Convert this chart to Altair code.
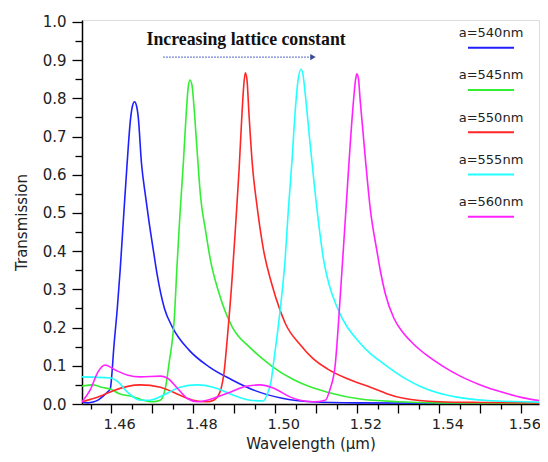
import altair as alt
import pandas as pd

series_names = ["a=540nm", "a=545nm", "a=550nm", "a=555nm", "a=560nm"]
series_colors = ["#2020ff", "#33ee33", "#ff2626", "#22ffff", "#ff22ff"]

wl_540 = [1.4529, 1.4544, 1.4556, 1.4568, 1.4580, 1.4590, 1.4598, 1.4602, 1.4606, 1.4615, 1.4622,
          1.4631, 1.4639, 1.4647, 1.4652, 1.4657, 1.4662, 1.4666, 1.4674, 1.4684, 1.4692, 1.4704,
          1.4712, 1.4730, 1.4749, 1.4790, 1.4838, 1.4895, 1.4951, 1.5017, 1.5090, 1.5200, 1.5400,
          1.5643]
tr_540 = [0.005, 0.003, 0.005, 0.010, 0.020, 0.030, 0.040, 0.080, 0.140, 0.250, 0.350,
          0.500, 0.630, 0.743, 0.780, 0.791, 0.780, 0.752, 0.630, 0.543, 0.480, 0.395,
          0.340, 0.250, 0.202, 0.141, 0.098, 0.063, 0.035, 0.015, 0.006, 0.003, 0.002,
          0.002]

wl_545 = [1.4529, 1.4556, 1.4580, 1.4598, 1.4620, 1.4654, 1.4678, 1.4702, 1.4718, 1.4724, 1.4732,
          1.4741, 1.4754, 1.4761, 1.4768, 1.4776, 1.4783, 1.4788, 1.4792, 1.4797, 1.4802, 1.4810,
          1.4818, 1.4830, 1.4842, 1.4863, 1.4895, 1.4936, 1.4963, 1.4993, 1.5044, 1.5090, 1.5127,
          1.5207, 1.5300, 1.5400, 1.5643]
tr_545 = [0.047, 0.050, 0.043, 0.039, 0.027, 0.019, 0.010, 0.006, 0.009, 0.015, 0.040,
          0.105, 0.225, 0.369, 0.500, 0.630, 0.760, 0.830, 0.848, 0.835, 0.778, 0.657,
          0.543, 0.455, 0.377, 0.290, 0.202, 0.150, 0.124, 0.098, 0.064, 0.043, 0.031,
          0.013, 0.006, 0.003, 0.002]

wl_550 = [1.4529, 1.4573, 1.4605, 1.4671, 1.4720, 1.4768, 1.4800, 1.4834, 1.4850, 1.4860, 1.4868,
          1.4875, 1.4883, 1.4895, 1.4903, 1.4912, 1.4918, 1.4923, 1.4927, 1.4931, 1.4936, 1.4944,
          1.4956, 1.4972, 1.4990, 1.5012, 1.5025, 1.5061, 1.5091, 1.5127, 1.5176, 1.5232, 1.5256,
          1.5272, 1.5313, 1.5400, 1.5500, 1.5643]
tr_550 = [0.006, 0.020, 0.035, 0.050, 0.044, 0.023, 0.010, 0.006, 0.010, 0.020, 0.040,
          0.080, 0.170, 0.330, 0.460, 0.615, 0.740, 0.830, 0.867, 0.850, 0.760, 0.630,
          0.515, 0.400, 0.320, 0.245, 0.210, 0.155, 0.120, 0.092, 0.066, 0.044, 0.034,
          0.027, 0.015, 0.006, 0.004, 0.003]

wl_555 = [1.4529, 1.4598, 1.4617, 1.4639, 1.4671, 1.4695, 1.4727, 1.4768, 1.4810, 1.4849, 1.4898,
          1.4946, 1.4971, 1.4980, 1.4990, 1.4995, 1.5012, 1.5024, 1.5032, 1.5041, 1.5049, 1.5056,
          1.5063, 1.5068, 1.5073, 1.5085, 1.5102, 1.5118, 1.5132, 1.5150, 1.5207, 1.5232, 1.5256,
          1.5272, 1.5313, 1.5354, 1.5394, 1.5443, 1.5516, 1.5600, 1.5643]
tr_555 = [0.071, 0.068, 0.058, 0.032, 0.010, 0.010, 0.023, 0.044, 0.050, 0.044, 0.023,
          0.009, 0.008, 0.025, 0.060, 0.100, 0.246, 0.377, 0.508, 0.639, 0.770, 0.850,
          0.876, 0.860, 0.813, 0.682, 0.508, 0.377, 0.310, 0.255, 0.159, 0.132, 0.112,
          0.099, 0.069, 0.046, 0.030, 0.018, 0.009, 0.006, 0.005]

wl_560 = [1.4529, 1.4549, 1.4568, 1.4585, 1.4610, 1.4639, 1.4671, 1.4720, 1.4737, 1.4761, 1.4785,
          1.4810, 1.4834, 1.4883, 1.4932, 1.4963, 1.4995, 1.5037, 1.5061, 1.5093, 1.5122, 1.5134,
          1.5146, 1.5159, 1.5167, 1.5175, 1.5183, 1.5191, 1.5196, 1.5199, 1.5203, 1.5207, 1.5220,
          1.5232, 1.5248, 1.5256, 1.5268, 1.5289, 1.5313, 1.5337, 1.5370, 1.5410, 1.5451, 1.5500,
          1.5556, 1.5605, 1.5643]
tr_560 = [0.006, 0.037, 0.084, 0.102, 0.089, 0.076, 0.071, 0.073, 0.068, 0.042, 0.015,
          0.006, 0.010, 0.028, 0.047, 0.050, 0.042, 0.018, 0.010, 0.006, 0.010, 0.040,
          0.100, 0.290, 0.420, 0.552, 0.683, 0.796, 0.850, 0.864, 0.850, 0.796, 0.639,
          0.508, 0.400, 0.350, 0.290, 0.225, 0.185, 0.157, 0.127, 0.098, 0.073, 0.050,
          0.030, 0.016, 0.009]

x_major_ticks = [1.46, 1.47, 1.48, 1.49, 1.50, 1.51, 1.52, 1.53, 1.54, 1.55, 1.56]
x_minor_ticks = [1.455, 1.465, 1.475, 1.485, 1.495, 1.505, 1.515, 1.525, 1.535, 1.545, 1.555]
y_major_ticks = [0.0, 0.1, 0.2, 0.3, 0.4, 0.5, 0.6, 0.7, 0.8, 0.9, 1.0]
y_minor_ticks = [0.05, 0.15, 0.25, 0.35, 0.45, 0.55, 0.65, 0.75, 0.85, 0.95]

annot_text = ["Increasing lattice constant"]
annot_x = [1.4929]
annot_y = [0.953]
arrow_x = [1.4727]
arrow_x2 = [1.5087]
arrow_y = [0.908]
arrow_head_x = [1.5092]

rows = []
for name, wl, tr in zip(series_names,
                        [wl_540, wl_545, wl_550, wl_555, wl_560],
                        [tr_540, tr_545, tr_550, tr_555, tr_560]):
    for w, t in zip(wl, tr):
        rows.append({"series": name, "wl": w, "tr": t})
df = pd.DataFrame(rows)

XDOM = [1.4529, 1.5643]
YDOM = [0.0, 1.005]
FONT = "DejaVu Sans"

xscale = alt.Scale(domain=XDOM, nice=False, zero=False)
yscale = alt.Scale(domain=YDOM, nice=False, zero=True)
cscale = alt.Scale(domain=series_names, range=series_colors)

lines = alt.Chart(df).mark_line(strokeWidth=1.6, clip=True, interpolate="monotone").encode(
    x=alt.X("wl:Q", scale=xscale,
            axis=alt.Axis(values=x_major_ticks, tickSize=9, labelPadding=4, grid=False,
                          labelExpr="(round(datum.value*100) % 2 == 0) ? format(datum.value, '.2f') : ''",
                          labelOffset={"condition": {"test": "datum.value > 1.555", "value": 3}, "value": 8},
                          labelFont=FONT, labelFontSize=14.5, labelColor="#222",
                          title="Wavelength (μm)", titleFont=FONT, titleFontSize=15,
                          titleFontWeight="normal", titleColor="#222", titlePadding=6,
                          domainColor="black", tickColor="black", domainWidth=1.5, tickWidth=1.3,
                          orient="bottom")),
    y=alt.Y("tr:Q", scale=yscale,
            axis=alt.Axis(values=y_major_ticks, tickSize=10, labelPadding=6, grid=False, format=".1f",
                          labelFont=FONT, labelFontSize=15, labelColor="#222",
                          title="Transmission", titleFont=FONT, titleFontSize=15,
                          titleFontWeight="normal", titleColor="#222", titlePadding=13, titleY=202,
                          domainColor="black", tickColor="black", domainWidth=1.5, tickWidth=1.3,
                          orient="left")),
    color=alt.Color("series:N", scale=cscale, legend=None),
)

minor = alt.Chart(pd.DataFrame({"wl": x_minor_ticks[:10], "tr": y_minor_ticks})).mark_point(opacity=0).encode(
    x=alt.X("wl:Q", scale=xscale,
            axis=alt.Axis(values=x_minor_ticks, tickSize=5, labels=False, domain=False, grid=False,
                          title=None, tickColor="black", tickWidth=1.3, orient="bottom")),
    y=alt.Y("tr:Q", scale=yscale,
            axis=alt.Axis(values=y_minor_ticks, tickSize=7, labels=False, domain=False, grid=False,
                          title=None, tickColor="black", tickWidth=1.3, orient="left")),
)

title_df = pd.DataFrame({"x": annot_x, "y": annot_y, "t": annot_text})
title_txt = alt.Chart(title_df).mark_text(font="Liberation Serif", fontSize=17.8, fontWeight="bold",
                                          color="#111").encode(
    x=alt.X("x:Q", scale=xscale, axis=None), y=alt.Y("y:Q", scale=yscale, axis=None), text="t:N")

arrow_df = pd.DataFrame({"x": arrow_x, "x2": arrow_x2, "y": arrow_y, "hx": arrow_head_x})
arrow_line = alt.Chart(arrow_df).mark_rule(color="#4a5fc8", strokeWidth=1.3, strokeDash=[1.5, 1.5]).encode(
    x=alt.X("x:Q", scale=xscale, axis=None), x2="x2:Q", y=alt.Y("y:Q", scale=yscale, axis=None))
arrow_head = alt.Chart(arrow_df).mark_point(shape="triangle-right", filled=True, size=40,
                                            color="#3a4a90", opacity=1).encode(
    x=alt.X("hx:Q", scale=xscale, axis=None), y=alt.Y("y:Q", scale=yscale, axis=None))

# legend drawn inside the plot: label above a short colored stroke
leg_df = pd.DataFrame({"series": series_names})
leg_y = alt.Y("series:N", scale=alt.Scale(type="point", domain=series_names, range=[13, 182], padding=0),
              axis=None)
leg_text = alt.Chart(leg_df).mark_text(font=FONT, fontSize=13, color="#222", align="center",
                                       baseline="middle").encode(
    x=alt.value(409), y=leg_y, text="series:N")
leg_rule = alt.Chart(leg_df).mark_rule(strokeWidth=2, yOffset=14.7).encode(
    x=alt.value(386), x2=alt.value(432), y=leg_y,
    color=alt.Color("series:N", scale=cscale, legend=None))

chart = alt.layer(lines, minor, title_txt, arrow_line, arrow_head, leg_text, leg_rule).resolve_axis(
    x="independent", y="independent").resolve_scale(y="independent").properties(
    width=457, height=384,
    autosize=alt.AutoSizeParams(type="none"),
    padding={"left": 74, "top": 12, "right": 1, "bottom": 50},
).configure_view(stroke="black", strokeWidth=1.5).configure(background="white")

chart.save("out.html", embed_options={"renderer": "svg", "actions": False})
